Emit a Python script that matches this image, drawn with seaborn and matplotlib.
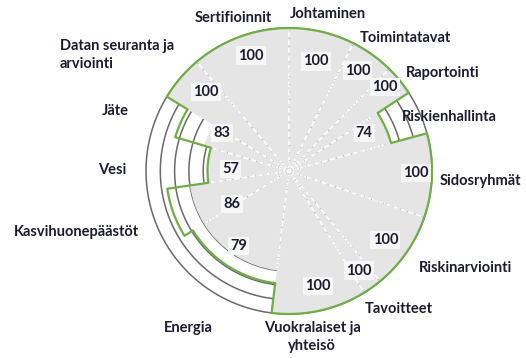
import numpy as np
import matplotlib
matplotlib.use("Agg")
import matplotlib.pyplot as plt
import seaborn as sns

# Assessment areas, clockwise from the top
categories = ["Johtaminen", "Toimintatavat", "Raportointi", "Riskienhallinta",
              "Sidosryhmät", "Riskinarviointi", "Tavoitteet", "Vuokralaiset ja\nyhteisö",
              "Energia", "Kasvihuonepäästöt", "Vesi", "Jäte",
              "Datan seuranta ja\narviointi", "Sertifioinnit"]
# Relative weight of each area (sets the sector width)
weights = [26.7, 17.7, 12.4, 17.9, 34.2, 31.5, 7.9, 38.7, 51.2, 23.5, 24.9, 14.7, 18.5, 40.2]
# Score of each area (green outline)
scores = [100, 100, 100, 74, 100, 100, 100, 100, 79, 86, 57, 83, 100, 100]
# Shaded level of each area (grey fill)
benchmark = [100, 100, 100, 74, 100, 100, 100, 100, 70, 70, 57, 62, 100, 100]
# Reference rings
ring_levels = [60, 70, 80, 90, 100]

# Layout: value label anchors (degrees clockwise from top, radius in score units)
value_label_theta = [13.9, 34.3, 48.8, 63.0, 91.0, 125.7, 145.0, 166.0,
                     214.0, 240.0, 272.0, 299.6, 313.6, 341.7]
value_label_r = [79, 85, 89, 59, 89, 83, 85, 83, 63, 46, 41, 54, 80, 85]
# Layout: category label centres in pixels (x from left, y from top)
cat_label_xy = [(328, 14), (405, 38), (443, 73), (449, 117), (480, 181), (466, 268),
                (399, 309), (312, 337), (188, 328), (76, 232), (112, 170), (115, 111),
                (60, 55), (233, 18)]

W, H = 526, 358
sns.set_theme(style="white")
plt.rcParams["font.family"] = ["Lato", "DejaVu Sans"]

TEXT = "#1c1c30"
GREEN = "#70ad47"
FILL = "#e5e5e5"
RING = "#6a6a6a"
FS = 10.5

fig = plt.figure(figsize=(W / 100, H / 100), dpi=100)
cx, cy, rad = 289, 171, 143
ax = fig.add_axes([(cx - rad) / W, 1 - (cy + rad) / H, 2 * rad / W, 2 * rad / H],
                  projection="polar")
ax.set_theta_zero_location("N")
ax.set_theta_direction(-1)
ax.set_ylim(0, 100)
ax.set_xticks([])
ax.set_yticks([])
ax.grid(False)
ax.spines["polar"].set_visible(False)
ax.patch.set_alpha(0)

w = np.asarray(weights) / np.sum(weights) * 2 * np.pi
edges = np.concatenate([[0.0], np.cumsum(w)])
centers = (edges[:-1] + edges[1:]) / 2

# Reference rings underneath the fill
full = np.linspace(0, 2 * np.pi, 721)
for lvl in ring_levels:
    ax.plot(full, np.full_like(full, lvl), color=RING, lw=1.1, zorder=0.5, clip_on=False)

# Grey sectors
ax.bar(centers, benchmark, width=w, color=FILL, edgecolor="none", zorder=1)

# Dashed white spokes at the sector boundaries, inside the fill
n = len(categories)
for i in range(n):
    reach = min(benchmark[i], benchmark[i - 1])
    ax.plot([edges[i], edges[i]], [0, reach], color="white", lw=1.1,
            ls=(0, (3.5, 2.0)), zorder=2)
    ax.plot([edges[i], edges[i]], [0, reach], color="#b0b0b0", lw=1.0,
            ls=(3.5, (0.6, 4.9)), zorder=2)

# Green score outline
th, rr = [], []
for i in range(n):
    t = np.linspace(edges[i], edges[i + 1], 60)
    th.extend(t)
    rr.extend([scores[i]] * len(t))
th.append(th[0])
rr.append(rr[0])
ax.plot(th, rr, color=GREEN, lw=1.6, zorder=4, clip_on=False)

# Value labels
for s, t, r in zip(scores, value_label_theta, value_label_r):
    ax.text(np.deg2rad(t), r, f"{s}", ha="center", va="center", fontsize=FS,
            fontweight="bold", color=TEXT, zorder=5,
            bbox=dict(boxstyle="square,pad=0.15", fc="#f6f6f6", ec="none"))

# Category labels
for name, (x, y) in zip(categories, cat_label_xy):
    ha = "left" if name.startswith("Datan") else "center"
    fig.text(x / W, 1 - y / H, name, ha=ha, va="center", fontsize=FS,
             fontweight="bold", color=TEXT, linespacing=1.3)

fig.savefig("out.png", dpi=100)
